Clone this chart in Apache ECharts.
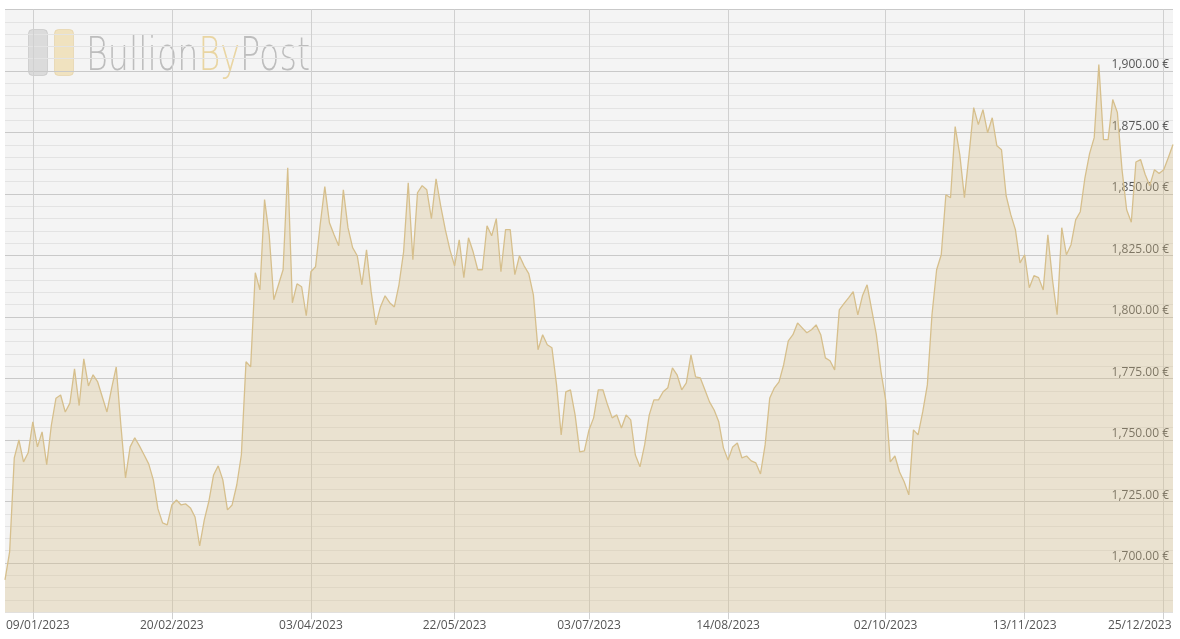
<!DOCTYPE html>
<html>
<head>
<meta charset="utf-8">
<script src="https://cdn.jsdelivr.net/npm/echarts@6/dist/echarts.min.js"></script>
<style>
html,body{margin:0;padding:0;background:#ffffff;}
#chart{width:1180px;height:639px;}
</style>
</head>
<body>
<div id="chart"></div>
<script>
// ---- data ----
const firstDay = '2022-12-30';
const lastDay = '2023-12-28';
const holidays = ['2023-04-07','2023-04-10','2023-05-01','2023-05-08','2023-05-29','2023-08-28','2023-12-26'];

const categories = (function () {
  const out = [];
  let t = Date.parse(firstDay + 'T00:00:00Z');
  const end = Date.parse(lastDay + 'T00:00:00Z');
  while (t <= end) {
    const d = new Date(t);
    const wd = d.getUTCDay();
    const iso = d.toISOString().slice(0, 10);
    if (wd !== 0 && wd !== 6 && holidays.indexOf(iso) < 0) {
      out.push(iso.slice(8, 10) + '/' + iso.slice(5, 7) + '/' + iso.slice(0, 4));
    }
    t += 86400000;
  }
  return out;
})();

const tickLabels = ['09/01/2023','20/02/2023','03/04/2023','22/05/2023','03/07/2023','14/08/2023','02/10/2023','13/11/2023','25/12/2023'];

const prices = [
  1693.1,1704.5,1742.7,1750.0,1741.1,1744.8,1757.4,1747.2,1753.3,1740.0,
  1756.0,1767.0,1768.3,1761.4,1765.0,1778.9,1764.0,1783.0,1772.0,1776.5,
  1773.6,1767.5,1761.4,1771.0,1779.7,1756.0,1734.6,1747.2,1750.9,1747.6,
  1744.0,1740.3,1733.8,1722.0,1716.3,1715.5,1723.6,1725.6,1723.6,1724.0,
  1722.4,1718.7,1707.0,1717.5,1725.2,1735.8,1739.5,1733.8,1721.6,1723.6,
  1731.7,1744.0,1781.8,1779.7,1818.0,1811.0,1847.7,1833.4,1807.0,1813.1,
  1819.2,1860.7,1805.8,1813.5,1812.3,1800.5,1818.4,1820.4,1837.5,1853.0,
  1838.3,1833.4,1829.0,1851.7,1836.3,1828.2,1824.9,1813.1,1827.3,1810.3,
  1796.8,1804.1,1808.6,1805.8,1804.1,1813.1,1826.5,1854.6,1823.3,1850.5,
  1853.4,1851.7,1840.0,1856.2,1845.2,1835.5,1827.3,1820.8,1831.4,1816.0,
  1832.2,1826.5,1819.2,1819.2,1837.1,1833.0,1840.0,1818.4,1835.5,1835.5,
  1817.2,1824.9,1820.8,1817.6,1809.0,1786.7,1792.8,1788.7,1787.5,1772.4,
  1752.1,1769.6,1770.4,1760.2,1745.2,1745.6,1754.1,1759.0,1770.4,1770.4,
  1764.3,1759.0,1760.2,1754.9,1760.2,1758.2,1743.9,1739.1,1748.0,1760.2,
  1766.3,1766.3,1769.6,1771.2,1779.3,1776.5,1770.4,1773.2,1784.6,1775.7,
  1775.3,1770.4,1765.5,1762.2,1757.4,1746.8,1741.9,1747.2,1748.8,1742.7,
  1743.5,1741.5,1740.7,1736.2,1748.0,1767.1,1771.2,1773.6,1780.6,1790.3,
  1792.8,1797.6,1795.6,1793.6,1794.8,1796.8,1792.8,1783.4,1782.2,1778.5,
  1802.9,1805.4,1807.8,1810.3,1800.9,1808.6,1813.1,1802.9,1792.8,1777.7,
  1766.3,1741.1,1743.5,1737.0,1733.0,1727.7,1754.1,1752.1,1761.4,1772.4,
  1800.9,1819.2,1825.3,1849.7,1848.5,1877.4,1866.0,1848.5,1866.0,1885.1,
  1878.2,1884.3,1874.9,1881.0,1869.6,1868.0,1849.3,1841.6,1835.5,1822.0,
  1825.3,1811.9,1816.8,1816.0,1811.0,1833.4,1815.1,1800.9,1836.3,1825.3,
  1829.4,1839.5,1842.8,1856.6,1866.4,1872.9,1902.6,1872.1,1872.1,1888.4,
  1883.1,1859.9,1843.6,1838.5,1863.0,1864.0,1857.9,1853.4,1859.9,1858.3,
  1859.9,1864.8,1870.1
];

const yMin = 1680;
const yMax = 1925;
const yStep = 5;
const yLabelFrom = 1700;
const yLabelTo = 1900;
const yLabelStep = 25;

// ---- chart ----
const chart = echarts.init(document.getElementById('chart'), null, {renderer: 'canvas'});

const isTick = function (idx, value) { return tickLabels.indexOf(value) >= 0; };

const minorColor = '#e3e3e3';
const majorColor = '#c9c9c9';

// logo text width fitting
const logoFont = "'DejaVu Sans ExtraLight', 'DejaVu Sans Light', 'DejaVu Sans Condensed', 'Liberation Sans Narrow', sans-serif";
let logoScale = 0.7;
try {
  const c = document.createElement('canvas').getContext('2d');
  c.font = '200 46px ' + logoFont;
  const w = c.measureText('BullionByPost').width;
  if (w > 0) logoScale = 224 / w;
} catch (e) {}

const option = {
  animation: false,
  backgroundColor: '#ffffff',
  grid: {
    left: 5, right: 7, top: 9.5, bottom: 26.8,
    show: true, backgroundColor: '#f4f4f4', borderWidth: 0,
    containLabel: false, outerBoundsMode: 'none'
  },
  graphic: [
    {type: 'rect', left: 28, top: 29, z: 0, silent: true,
      shape: {width: 19, height: 46, r: 4},
      style: {fill: 'rgba(208,208,208,0.7)', stroke: 'rgba(180,180,180,0.45)', lineWidth: 1}},
    {type: 'rect', left: 54, top: 29, z: 0, silent: true,
      shape: {width: 19, height: 46, r: 4},
      style: {fill: 'rgba(238,218,168,0.7)', stroke: 'rgba(222,198,145,0.45)', lineWidth: 1}},
    {type: 'text', x: 86, y: 58, scaleX: logoScale, z: 0, silent: true,
      style: {
        text: '{a|Bullion}{b|By}{a|Post}',
        verticalAlign: 'middle',
        align: 'left',
        rich: {
          a: {fill: '#bdbdbd', fontSize: 46, fontWeight: 200, fontFamily: logoFont},
          b: {fill: '#e9d5a2', fontSize: 46, fontWeight: 200, fontFamily: logoFont}
        }
      }}
  ],
  xAxis: {
    type: 'category',
    data: categories,
    boundaryGap: false,
    axisLine: {show: false},
    axisTick: {show: true, interval: isTick, length: 7, lineStyle: {color: '#d0d0d0'}},
    splitLine: {show: true, interval: isTick, lineStyle: {color: '#d0d0d0', width: 1}},
    axisLabel: {
      interval: isTick,
      color: '#555555',
      fontSize: 12,
      fontFamily: "'Open Sans', sans-serif",
      margin: 7,
      formatter: function (v) {
        if (v === tickLabels[0]) return '{f|' + v + '}';
        if (v === tickLabels[tickLabels.length - 1]) return '{l|' + v + '}';
        return v;
      },
      rich: {
        f: {padding: [0, 0, 0, 10], color: '#555555', fontSize: 12, fontFamily: "'Open Sans', sans-serif"},
        l: {padding: [0, 48, 0, 0], color: '#555555', fontSize: 12, fontFamily: "'Open Sans', sans-serif"}
      }
    }
  },
  yAxis: {
    type: 'value',
    position: 'right',
    min: yMin,
    max: yMax,
    interval: yStep,
    axisLine: {show: false},
    axisTick: {show: false},
    splitLine: {show: true, lineStyle: {color: [minorColor, minorColor, minorColor, minorColor, majorColor], width: 1}},
    axisLabel: {
      inside: true,
      margin: 4,
      color: '#555555',
      fontSize: 12,
      fontFamily: "'Open Sans', sans-serif",
      verticalAlign: 'bottom',
      showMinLabel: false,
      showMaxLabel: false,
      formatter: function (v) {
        if (v >= yLabelFrom && v <= yLabelTo && (v - yLabelFrom) % yLabelStep === 0) {
          return v.toLocaleString('en-US', {minimumFractionDigits: 2, maximumFractionDigits: 2}) + ' €';
        }
        return '';
      }
    }
  },
  series: [{
    type: 'line',
    data: prices,
    symbol: 'none',
    smooth: false,
    z: 3,
    lineStyle: {color: '#d6bf8c', width: 1.3},
    areaStyle: {color: 'rgba(214,190,135,0.46)', origin: 'start'}
  }]
};

chart.setOption(option);
</script>
</body>
</html>
